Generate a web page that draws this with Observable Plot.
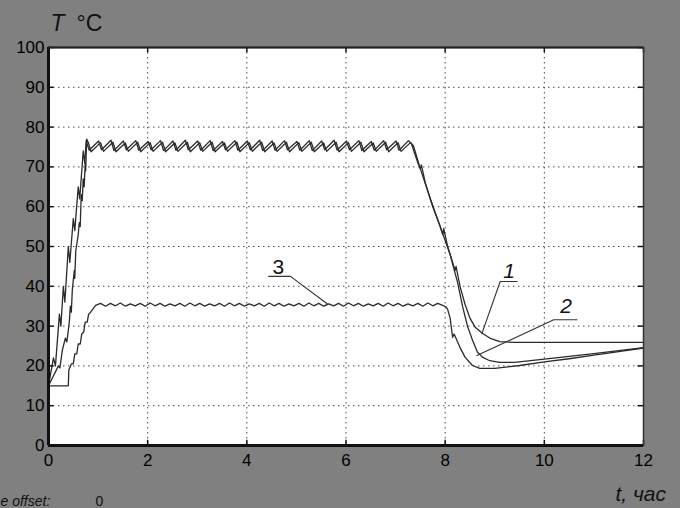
<!DOCTYPE html>
<html><head><meta charset="utf-8">
<script src="https://cdn.jsdelivr.net/npm/d3@7"></script>
<script src="https://cdn.jsdelivr.net/npm/@observablehq/plot@0.6"></script>
<style>html,body{margin:0;padding:0;background:#808080;}</style>
</head><body><div id="chart"></div>
<script>
const xTicks = [0, 2, 4, 6, 8, 10, 12];
const yTicks = [0, 10, 20, 30, 40, 50, 60, 70, 80, 90, 100];

// Curve 1: heating ramp, thermostat plateau, cooling to a held level
const curve1 = [
  [0,15],[0.1,22],[0.14,20],[0.22,33],[0.25,30],[0.3,40],[0.33,36],[0.4,50],[0.43,46],[0.5,57],[0.53,54],[0.6,65],[0.63,62],[0.7,74],[0.73,71],
  [0.76,76.6],[0.82,74.2],[1.01,76.5],[1.07,74.3],[1.26,76.7],[1.32,74.1],[1.51,76.5],[1.57,74.3],[1.76,76.6],[1.82,74.2],[2.01,76.4],[2.07,74.3],
  [2.26,76.6],[2.32,74.1],[2.51,76.5],[2.57,74.2],[2.76,76.7],[2.82,74.3],[3.01,76.5],[3.07,74.2],[3.26,76.6],[3.32,74.1],[3.51,76.4],[3.57,74.3],
  [3.76,76.6],[3.82,74.2],[4.01,76.5],[4.07,74.3],[4.26,76.7],[4.32,74.1],[4.51,76.5],[4.57,74.2],[4.76,76.6],[4.82,74.3],[5.01,76.4],[5.07,74.2],
  [5.26,76.6],[5.32,74.1],[5.51,76.5],[5.57,74.3],[5.76,76.7],[5.82,74.2],[6.01,76.5],[6.07,74.3],[6.26,76.6],[6.32,74.1],[6.51,76.4],[6.57,74.2],
  [6.76,76.6],[6.82,74.3],[7.01,76.5],[7.07,74.2],[7.26,76.6],
  [7.32,75.8],[7.45,71],[7.5,69.5],[7.52,70.5],[7.6,66],[7.75,60],[7.9,55],[7.95,53],[7.97,54.5],[8.05,50],[8.15,46],[8.2,44],[8.22,45],
  [8.3,40],[8.4,35.5],[8.5,32],[8.6,29.8],[8.75,28.2],[8.9,27],[9.1,26.1],[9.4,25.9],[12,25.9]
];

// Curve 2
const curve2 = [
  [0,15],[0.04,16],[0.2,20],[0.23,19.5],[0.28,24],[0.34,27],[0.37,26],[0.42,31],[0.44,35],[0.46,33.5],[0.48,39],[0.52,44],[0.53,42],[0.55,49],
  [0.6,53],[0.62,56],[0.64,55],[0.66,63],[0.68,61.5],[0.7,67],[0.72,65],[0.74,71],[0.75,69],[0.77,77],
  [0.80,76.2],[0.86,73.8],[1.05,76.1],[1.11,73.9],[1.30,76.2],[1.36,73.8],[1.55,76.0],[1.61,73.9],[1.80,76.2],[1.86,73.8],[2.05,76.1],[2.11,73.9],
  [2.30,76.2],[2.36,73.8],[2.55,76.0],[2.61,73.9],[2.80,76.2],[2.86,73.8],[3.05,76.1],[3.11,73.9],[3.30,76.2],[3.36,73.8],[3.55,76.0],[3.61,73.9],
  [3.80,76.2],[3.86,73.8],[4.05,76.1],[4.11,73.9],[4.30,76.2],[4.36,73.8],[4.55,76.0],[4.61,73.9],[4.80,76.2],[4.86,73.8],[5.05,76.1],[5.11,73.9],
  [5.30,76.2],[5.36,73.8],[5.55,76.0],[5.61,73.9],[5.80,76.2],[5.86,73.8],[6.05,76.1],[6.11,73.9],[6.30,76.2],[6.36,73.8],[6.55,76.0],[6.61,73.9],
  [6.80,76.2],[6.86,73.8],[7.05,76.1],[7.11,73.9],[7.30,76.1],
  [7.36,75.3],[7.5,69.5],[7.7,62],[7.9,55],[8.1,48],[8.25,41],[8.35,35],[8.45,30],[8.55,26.5],[8.65,23.5],[8.75,22.2],[8.9,21.3],[9.1,20.9],
  [9.4,20.9],[10,21.7],[11,23.1],[12,24.6]
];

// Curve 3
const curve3 = [
  [0,15],[0.4,15],[0.41,19],[0.46,20.5],[0.5,20.5],[0.53,23],[0.57,23],[0.6,25.5],[0.64,25.5],[0.67,28],[0.71,28.5],[0.74,31],[0.78,31],[0.81,33],[0.85,33.5],
  [0.95,35.2],[1.05,35.7],[1.15,35.0],[1.25,35.7],[1.35,35.1],[1.45,35.8],[1.55,35.0],[1.65,35.6],[1.75,35.1],[1.85,35.7],[1.95,35.0],[2.05,35.8],
  [2.15,35.1],[2.25,35.7],[2.35,35.0],[2.45,35.6],[2.55,35.1],[2.65,35.7],[2.75,35.0],[2.85,35.8],[2.95,35.1],[3.05,35.7],[3.15,35.0],[3.25,35.6],
  [3.35,35.1],[3.45,35.7],[3.55,35.0],[3.65,35.8],[3.75,35.1],[3.85,35.7],[3.95,35.0],[4.05,35.6],[4.15,35.1],[4.25,35.7],[4.35,35.0],[4.45,35.8],
  [4.55,35.1],[4.65,35.7],[4.75,35.0],[4.85,35.6],[4.95,35.1],[5.05,35.7],[5.15,35.0],[5.25,35.8],[5.35,35.1],[5.45,35.7],[5.55,35.0],[5.65,35.6],
  [5.75,35.1],[5.85,35.7],[5.95,35.0],[6.05,35.8],[6.15,35.1],[6.25,35.7],[6.35,35.0],[6.45,35.6],[6.55,35.1],[6.65,35.7],[6.75,35.0],[6.85,35.8],
  [6.95,35.1],[7.05,35.7],[7.15,35.0],[7.25,35.6],[7.35,35.1],[7.45,35.7],[7.55,35.0],[7.65,35.8],[7.75,35.1],[7.85,35.7],[7.95,35.2],
  [8.02,34.8],[8.05,34.2],[8.1,32],[8.15,27.2],[8.18,28],[8.3,24.6],[8.4,22.2],[8.55,20.1],[8.7,19.4],[9.0,19.4],[9.5,20.1],[10,21],
  [10.5,21.8],[11,22.7],[11.5,23.6],[12,24.5]
];

// Curve labels and leader lines (data units)
const labels = [
  {s: "1", t: 9.17, T: 42.0, italic: true},
  {s: "2", t: 10.32, T: 33.2, italic: true},
  {s: "3", t: 4.52, T: 43.2, italic: false}
];
const leader1 = [[8.74, 28.1], [9.11, 41.2], [9.45, 41.2]];
const leader2 = [[8.64, 22.6], [10.19, 31.6], [10.66, 31.6]];
const leader3 = [[4.44, 42.5], [4.88, 42.5], [5.62, 35.6]];

const rows = (pts) => pts.map(([t, T]) => ({t, T}));
const lineStyle = {x: "t", y: "T", stroke: "#2b2b2b", strokeWidth: 1.3, strokeLinejoin: "round"};
const leadStyle = {x: "t", y: "T", stroke: "#333", strokeWidth: 1.1};
const font = "Liberation Sans, Arial, Helvetica, sans-serif";

const chart = Plot.plot({
  width: 680, height: 508,
  marginLeft: 48, marginRight: 37, marginTop: 47, marginBottom: 63,
  style: {background: "#808080", fontFamily: font, color: "#000", overflow: "visible"},
  x: {domain: [0, 12], axis: null, label: null},
  y: {domain: [0, 100], axis: null, label: null},
  marks: [
    Plot.frame({fill: "white", stroke: null}),
    Plot.ruleX(xTicks.filter(d => d > 0 && d < 12), {stroke: "#4a4a4a", strokeWidth: 1, strokeDasharray: "1.5,3.5"}),
    Plot.ruleY(yTicks.filter(d => d > 0 && d < 100), {stroke: "#4a4a4a", strokeWidth: 1, strokeDasharray: "1.5,3.5"}),
    Plot.line(rows(curve3), lineStyle),
    Plot.line(rows(curve2), lineStyle),
    Plot.line(rows(curve1), lineStyle),
    Plot.line(rows(leader1), leadStyle),
    Plot.line(rows(leader2), leadStyle),
    Plot.line(rows(leader3), leadStyle),
    Plot.text(labels.filter(d => d.italic), {x: "t", y: "T", text: "s", textAnchor: "start", lineAnchor: "bottom", fontSize: 21, fontStyle: "italic", fill: "#111"}),
    Plot.text(labels.filter(d => !d.italic), {x: "t", y: "T", text: "s", textAnchor: "start", lineAnchor: "bottom", fontSize: 21, fill: "#111"}),
    // inward tick marks on all four sides
    Plot.ruleX(xTicks, {y1: 0, y2: 1.3, stroke: "#111", strokeWidth: 1.5}),
    Plot.ruleX(xTicks, {y1: 98.7, y2: 100, stroke: "#111", strokeWidth: 1.5}),
    Plot.ruleY(yTicks, {x1: 0, x2: 0.11, stroke: "#111", strokeWidth: 1.5}),
    Plot.ruleY(yTicks, {x1: 11.89, x2: 12, stroke: "#111", strokeWidth: 1.5}),
    Plot.frame({stroke: "#333", strokeWidth: 1.5}),
    Plot.ruleX([0], {stroke: "#111", strokeWidth: 3}),
    Plot.ruleY([0], {stroke: "#111", strokeWidth: 3}),
    Plot.ruleY([100], {stroke: "#222", strokeWidth: 2}),
    Plot.axisX(xTicks, {tickSize: 0, tickPadding: 8, fontSize: 17, label: null, tickFormat: d => String(d)}),
    Plot.axisY(yTicks, {tickSize: 0, tickPadding: 4, fontSize: 17, label: null, tickFormat: d => String(d)}),
    Plot.text(["T"], {frameAnchor: "top-left", dx: 2, dy: -17, lineAnchor: "bottom", textAnchor: "start", fontSize: 23, fontStyle: "italic", fill: "#111"}),
    Plot.text(["°C"], {frameAnchor: "top-left", dx: 28, dy: -17, lineAnchor: "bottom", textAnchor: "start", fontSize: 23, fill: "#111"}),
    Plot.text(["t, час"], {frameAnchor: "bottom-right", dx: -28, dy: 55, lineAnchor: "bottom", textAnchor: "start", fontSize: 21, fontStyle: "italic", fill: "#111"}),
    Plot.text(["e offset:"], {frameAnchor: "bottom-left", dx: -48, dy: 60, lineAnchor: "bottom", textAnchor: "start", fontSize: 14, fontStyle: "italic", fill: "#111"}),
    Plot.text(["0"], {frameAnchor: "bottom-left", dx: 47, dy: 60, lineAnchor: "bottom", textAnchor: "start", fontSize: 14, fill: "#111"})
  ]
});
document.getElementById("chart").appendChild(chart);
</script>
</body></html>
